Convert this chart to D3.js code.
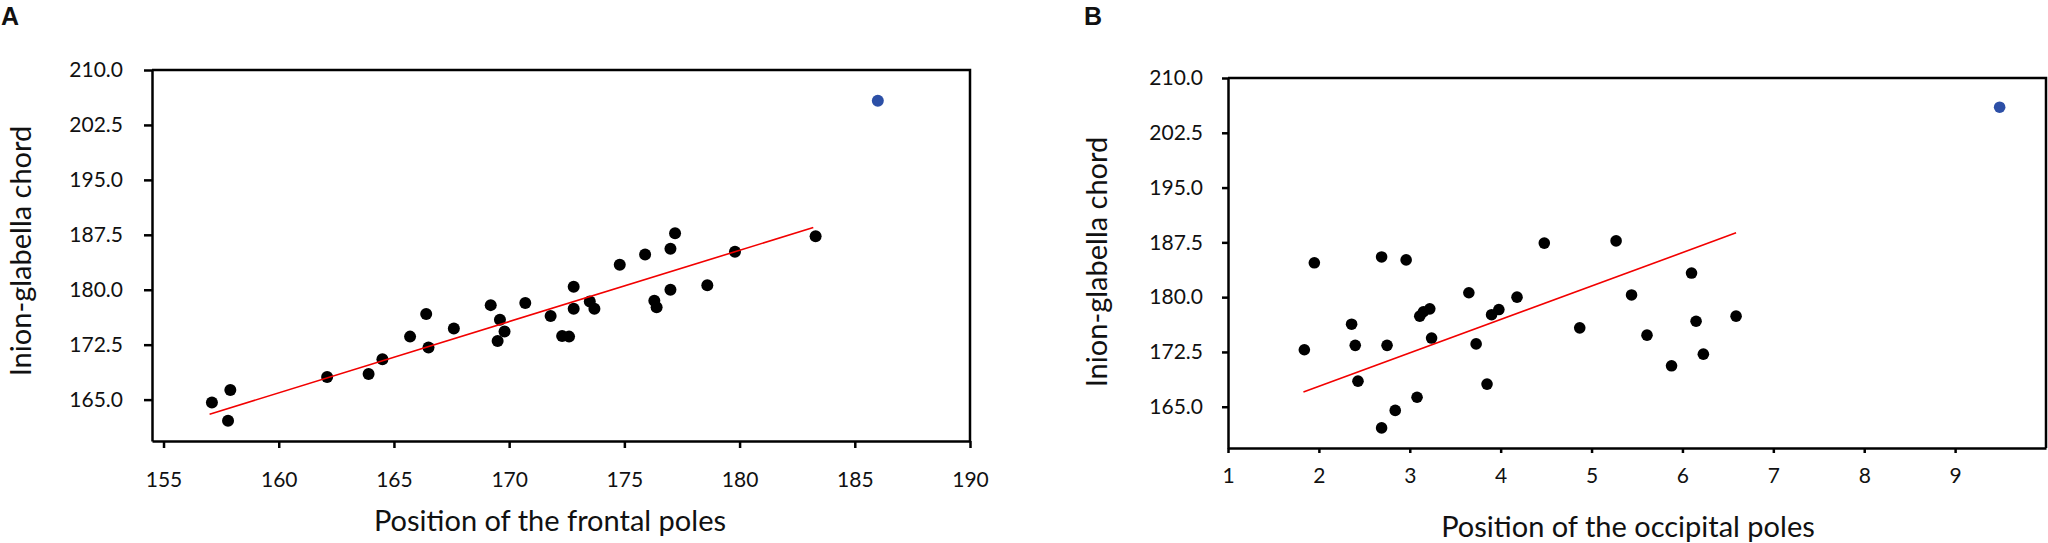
<!DOCTYPE html>
<html>
<head>
<meta charset="utf-8">
<script src="https://cdn.jsdelivr.net/npm/d3@7"></script>
<style>
  body { margin: 0; background: #fff; }
  text { font-family: Lato, "Open Sans", sans-serif; fill: #111; }
  .tick text { font-size: 21px; }
  .axis-title { font-size: 29px; }
  .panel-label { font-family: "Liberation Sans", Arial, sans-serif; font-weight: bold; font-size: 25px; }
</style>
</head>
<body>
<div id="container"></div>
<script>
// shared y axis
const yTicks = [165.0, 172.5, 180.0, 187.5, 195.0, 202.5, 210.0];

// panel A - frontal poles
const frontalX = [157.1, 157.9, 157.8, 162.1, 163.9, 164.5, 165.7, 166.4, 166.5, 167.6,
                  169.2, 169.6, 169.8, 169.5, 170.7, 171.8, 172.3, 172.6, 172.8, 172.8,
                  173.5, 173.7, 174.8, 175.9, 176.3, 176.4, 177.0, 177.2, 177.0, 178.6,
                  179.8, 183.3];
const frontalY = [164.6, 166.3, 162.1, 168.1, 168.5, 170.5, 173.6, 176.7, 172.1, 174.7,
                  177.9, 175.9, 174.3, 173.0, 178.2, 176.4, 173.7, 173.6, 180.4, 177.4,
                  178.4, 177.4, 183.4, 184.8, 178.5, 177.6, 185.6, 187.7, 180.0, 180.6,
                  185.2, 187.3];
const outlierA = [186.0, 205.8];
const trendAX = [157.0, 183.2];
const trendAY = [163.0, 188.5];
const xTicksA = [155, 160, 165, 170, 175, 180, 185, 190];

// panel B - occipital poles
const occipitalX = [1.84, 1.95, 2.36, 2.40, 2.43, 2.69, 2.69, 2.75, 2.84, 2.96,
                    3.08, 3.11, 3.15, 3.22, 3.24, 3.65, 3.73, 3.85, 3.90, 3.98,
                    4.18, 4.48, 4.87, 5.27, 5.44, 5.61, 5.88, 6.10, 6.15, 6.23,
                    6.59];
const occipitalY = [172.8, 184.7, 176.3, 173.4, 168.5, 185.5, 162.1, 173.4, 164.5, 185.1,
                    166.3, 177.4, 178.0, 178.4, 174.4, 180.6, 173.6, 168.1, 177.6, 178.3,
                    180.0, 187.4, 175.8, 187.7, 180.3, 174.8, 170.6, 183.3, 176.7, 172.2,
                    177.4];
const outlierB = [9.49, 206.0];
const trendBX = [1.83, 6.59];
const trendBY = [167.0, 188.8];
const xTicksB = [1, 2, 3, 4, 5, 6, 7, 8, 9];

const svg = d3.select("#container")
  .append("svg")
    .attr("width", 2048)
    .attr("height", 543);

function drawPanel(opt) {
  const g = svg.append("g");

  const x = d3.scaleLinear().domain(opt.xDomain).range([opt.left, opt.right]);
  const y = d3.scaleLinear().domain([159.35, 210]).range([opt.bottom, opt.top]);

  // frame (top + right)
  g.append("path")
    .attr("d", `M${opt.left},${opt.top}H${opt.right}V${opt.bottom}`)
    .attr("fill", "none")
    .attr("stroke", "#000")
    .attr("stroke-width", 2.5);

  const yAxis = g.append("g")
    .attr("transform", `translate(${opt.left},0)`)
    .call(d3.axisLeft(y).tickValues(yTicks).tickFormat(d3.format(".1f"))
      .tickSize(opt.yTick).tickPadding(opt.yPad).tickSizeOuter(0));

  const xAxis = g.append("g")
    .attr("transform", `translate(0,${opt.bottom})`)
    .call(d3.axisBottom(x).tickValues(opt.xTicks).tickFormat(d3.format("d"))
      .tickSize(opt.xTick).tickPadding(opt.xPad).tickSizeOuter(0));

  [yAxis, xAxis].forEach(a => {
    a.select(".domain").attr("stroke", "#000").attr("stroke-width", 2.5);
    a.selectAll(".tick line").attr("stroke", "#000").attr("stroke-width", 2.5);
    a.selectAll(".tick text").attr("fill", "#111").style("font-family", "Lato, sans-serif");
  });

  // points
  g.selectAll(".dot")
    .data(opt.xs.map((d, i) => [d, opt.ys[i]]))
    .enter()
    .append("circle")
      .attr("cx", d => x(d[0]))
      .attr("cy", d => y(d[1]))
      .attr("r", opt.r)
      .attr("fill", "#000");

  g.append("circle")
    .attr("cx", x(opt.outlier[0]))
    .attr("cy", y(opt.outlier[1]))
    .attr("r", opt.r)
    .attr("fill", "#2c4fa6");

  // trend line
  g.append("line")
    .attr("x1", x(opt.trendX[0])).attr("y1", y(opt.trendY[0]))
    .attr("x2", x(opt.trendX[1])).attr("y2", y(opt.trendY[1]))
    .attr("stroke", "#f20000")
    .attr("stroke-width", 1.6);

  // titles
  g.append("text")
    .attr("class", "axis-title")
    .attr("x", opt.xTitleX)
    .attr("y", opt.xTitleY)
    .attr("text-anchor", "middle")
    .text(opt.xTitle);

  g.append("text")
    .attr("class", "axis-title")
    .attr("transform", `translate(${opt.yTitleX},${opt.yTitleY}) rotate(-90)`)
    .attr("text-anchor", "middle")
    .text("Inion-glabella chord");

  g.append("text")
    .attr("class", "panel-label")
    .attr("x", opt.labelX)
    .attr("y", 25)
    .text(opt.label);
}

drawPanel({
  label: "A", labelX: 1,
  left: 152, right: 970, top: 70, bottom: 441,
  xDomain: [154.5, 190], xTicks: xTicksA,
  yTick: 8, yPad: 21, xTick: 7, xPad: 24,
  xs: frontalX, ys: frontalY, outlier: outlierA, r: 6,
  trendX: trendAX, trendY: trendAY,
  xTitle: "Position of the frontal poles", xTitleX: 550, xTitleY: 531,
  yTitleX: 31, yTitleY: 251
});

drawPanel({
  label: "B", labelX: 1084,
  left: 1228, right: 2046, top: 78, bottom: 448,
  xDomain: [1, 10], xTicks: xTicksB,
  yTick: 6, yPad: 19, xTick: 5, xPad: 15,
  xs: occipitalX, ys: occipitalY, outlier: outlierB, r: 5.8,
  trendX: trendBX, trendY: trendBY,
  xTitle: "Position of the occipital poles", xTitleX: 1628, xTitleY: 537,
  yTitleX: 1107, yTitleY: 262
});
</script>
</body>
</html>
